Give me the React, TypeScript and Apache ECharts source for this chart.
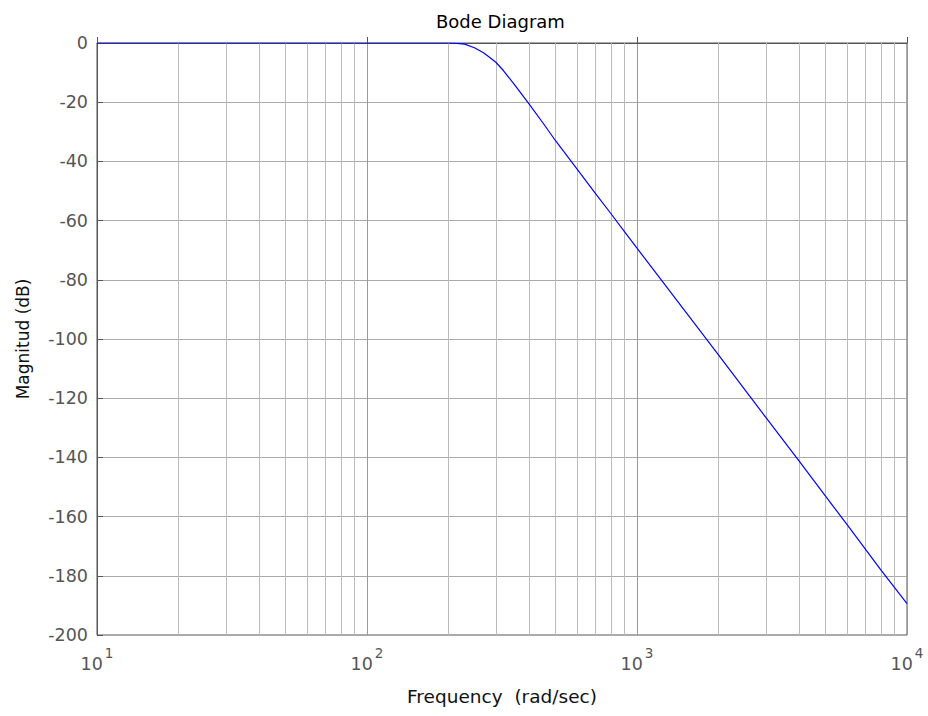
import React, { useEffect, useRef } from "react";
import * as echarts from "echarts";

// Frequency (rad/sec) and magnitude (dB)
const freqs = [10, 50, 100, 150, 200, 215, 230, 250, 270, 285, 300, 320, 350, 400, 450, 500, 600, 700, 800, 900, 1000, 2000, 3000, 4000, 5000, 6000, 8000, 10000];
const magDb = [0, 0, 0, 0, 0, -0.1, -0.4, -1.6, -3.3, -4.9, -6.5, -9.3, -13.8, -20.8, -27.2, -33.1, -42.6, -50.7, -57.6, -63.8, -69.3, -105.3, -126.5, -141.4, -153.2, -162.7, -178, -189.4];
const minorFreqs = [20, 30, 40, 50, 60, 70, 80, 90, 200, 300, 400, 500, 600, 700, 800, 900, 2000, 3000, 4000, 5000, 6000, 7000, 8000, 9000];
const titleText = "Bode Diagram";
const xName = "Frequency  (rad/sec)";
const yName = "Magnitud (dB)";

export default function App() {
  const ref = useRef<HTMLDivElement>(null);
  useEffect(() => {
    const chart = echarts.init(ref.current!, null, { renderer: "svg" });
    const font = "DejaVu Sans";
    chart.setOption({
      animation: false,
      textStyle: { fontFamily: font },
      title: {
        text: titleText,
        left: 431,
        top: 7,
        textStyle: { fontSize: 18, fontWeight: "normal", color: "#000", fontFamily: font },
      },
      grid: {
        left: 97,
        right: 21,
        top: 43,
        bottom: 81,
        show: true,
        borderColor: "#555",
        borderWidth: 1,
        backgroundColor: "#fff",
      },
      xAxis: {
        type: "log",
        logBase: 10,
        min: 10,
        max: 10000,
        name: xName,
        nameLocation: "middle",
        nameGap: 52,
        nameTextStyle: { fontSize: 18.5, color: "#111", fontFamily: font },
        axisLine: { show: true, lineStyle: { color: "#555" } },
        axisTick: { show: true, inside: true, length: 6, lineStyle: { color: "#555" } },
        splitLine: { show: true, lineStyle: { color: "#999", width: 1 } },
        minorTick: { show: false },
        axisLabel: {
          margin: 11,
          formatter: (v: number) => `{b|10}{s|${Math.round(Math.log10(v))}}`,
          rich: {
            b: { fontSize: 17.5, color: "#555", lineHeight: 27, verticalAlign: "bottom", fontFamily: font },
            s: { fontSize: 13.5, color: "#555", lineHeight: 27, verticalAlign: "top", padding: [0, 0, 0, 2], fontFamily: font },
          },
        },
      },
      yAxis: {
        type: "value",
        min: -200,
        max: 0,
        interval: 20,
        name: yName,
        nameLocation: "middle",
        nameGap: 66,
        nameTextStyle: { fontSize: 17, color: "#111", fontFamily: font },
        axisLine: { show: true, lineStyle: { color: "#555" } },
        axisTick: { show: true, inside: true, length: 6, lineStyle: { color: "#555" } },
        splitLine: { show: true, lineStyle: { color: "#aaa", width: 1 } },
        axisLabel: { fontSize: 17.5, color: "#555", margin: 9, fontFamily: font },
      },
      series: [
        {
          type: "line",
          data: freqs.map((f, i) => [f, magDb[i]]),
          showSymbol: false,
          symbol: "none",
          smooth: false,
          lineStyle: { color: "#0000ff", width: 1.2 },
          z: 5,
          markLine: {
            silent: true,
            symbol: ["none", "none"],
            label: { show: false },
            lineStyle: { color: "#bbb", type: "solid", width: 1 },
            data: minorFreqs.map((f) => ({ xAxis: f })),
            z: 1,
          },
        },
      ],
    });
    return () => chart.dispose();
  }, []);
  return (
    <div
      ref={ref}
      style={{ position: "fixed", left: 0, top: 0, width: 928, height: 716, background: "#fff" }}
    />
  );
}
